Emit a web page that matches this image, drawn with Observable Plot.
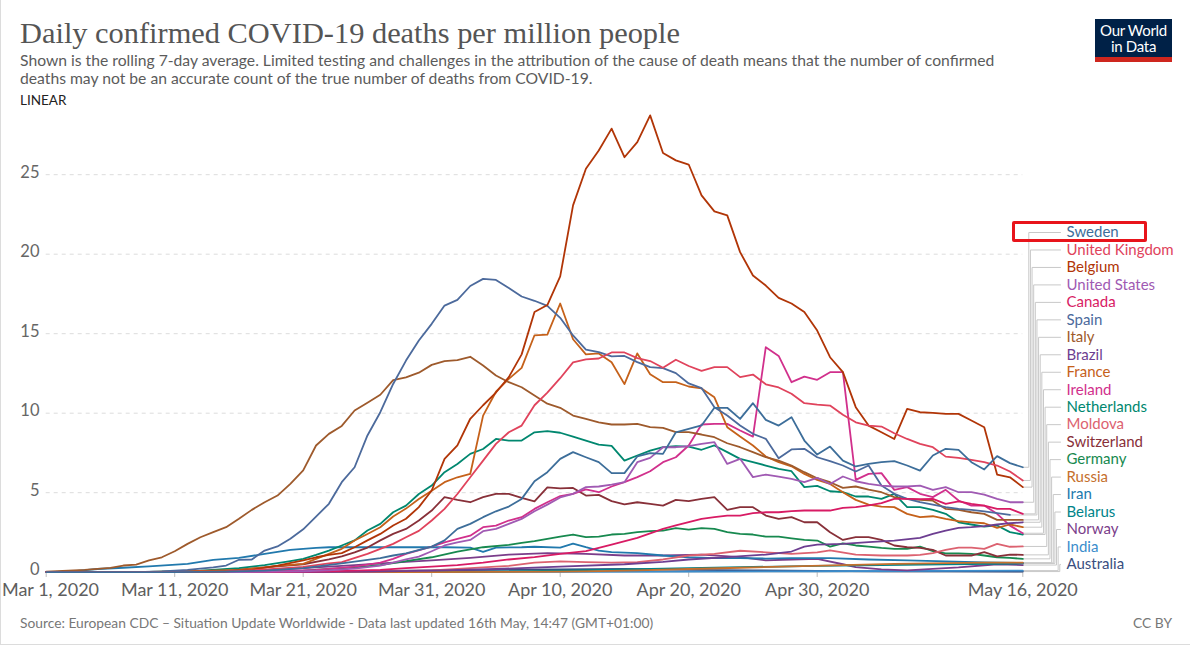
<!DOCTYPE html>
<html>
<head>
<meta charset="utf-8">
<script src="https://cdn.jsdelivr.net/npm/d3@7"></script>
<script src="https://cdn.jsdelivr.net/npm/@observablehq/plot@0.6"></script>
<style>
  body { margin: 0; background: #fff; }
  #wrap { position: relative; width: 1191px; height: 661px; overflow: hidden; font-family: Lato, "Open Sans", sans-serif; }
  #frame { position: absolute; left: 0; top: 0; width: 1190px; height: 645px; border-left: 1px solid #dcdcdc; border-bottom: 1px solid #dcdcdc; box-sizing: border-box; }
  #title { position: absolute; left: 20px; top: 17.5px; font-family: "Liberation Serif", "DejaVu Serif", serif; font-size: 30.4px; line-height: 30.4px; color: #555; white-space: nowrap; }
  #sub { position: absolute; left: 20px; top: 52.2px; font-size: 15.7px; line-height: 17.5px; color: #5b5b5b; white-space: nowrap; }
  #linear { position: absolute; left: 20px; top: 91.5px; font-size: 13.5px; line-height: 16px; color: #222; }
  #logo { position: absolute; left: 1095px; top: 19px; width: 77px; height: 43px; background: #002147; color: #fff; text-align: center; font-size: 15px; box-sizing: border-box; padding-top: 3px; border-bottom: 5px solid #ce261e; letter-spacing: -0.3px; }
  #logo div { line-height: 16px; height: 16px; }
  #chart { position: absolute; left: 0; top: 105px; }
  #hl { position: absolute; left: 1012px; top: 221px; width: 135px; height: 21px; border: 3px solid #e8141b; border-radius: 2px; box-sizing: border-box; }
  #source { position: absolute; left: 20px; top: 614.5px; font-size: 13.8px; line-height: 16.5px; color: #777; white-space: nowrap; }
  #cc { position: absolute; right: 19px; top: 614.5px; font-size: 13.8px; line-height: 16.5px; color: #777; }
</style>
</head>
<body>
<div id="wrap">
  <div id="frame"></div>
  <div id="title">Daily confirmed COVID-19 deaths per million people</div>
  <div id="sub">Shown is the rolling 7-day average. Limited testing and challenges in the attribution of the cause of death means that the number of confirmed<br>deaths may not be an accurate count of the true number of deaths from COVID-19.</div>
  <div id="linear">LINEAR</div>
  <div id="logo"><div>Our World</div><div>in Data</div></div>
  <div id="chart"></div>
  <div id="hl"></div>
  <div id="source">Source: European CDC – Situation Update Worldwide - Data last updated 16th May, 14:47 (GMT+01:00)</div>
  <div id="cc">CC BY</div>
</div>
<script>
// ---- data: [days since Mar 1 2020, deaths per million (7-day avg)] ----
const countries = ["Sweden","United Kingdom","Belgium","United States","Canada","Spain","Italy","Brazil","France","Ireland","Netherlands","Moldova","Switzerland","Germany","Russia","Iran","Belarus","Norway","India","Australia"];
const colors = ["#3d6e9a","#e0435c","#b13507","#a05ab3","#d81b64","#4c6a9c","#9e5a2c","#6d3e91","#c5611a","#d1308c","#00876f","#dc6270","#883039","#17894f","#c5702d","#2179ad","#00848a","#7b3d8a","#3b8dcc","#3a4e80"];

const sweden = [[0,0],[10,0],[14,0.03],[17,0.1],[20,0.25],[23,0.55],[26,0.88],[27,1.05],[28,1.19],[30,1.61],[31,2.0],[32,2.72],[33,3.04],[34,3.46],[35,3.83],[36,4.13],[37,4.61],[38,5.72],[39,6.29],[40,7.13],[41,7.55],[42,7.23],[43,6.92],[44,6.23],[45,6.23],[46,7.28],[47,7.49],[48,7.44],[49,8.8],[50,9.02],[51,9.23],[52,10.34],[53,10.34],[54,9.64],[55,10.63],[56,9.58],[57,9.22],[58,9.75],[59,8.28],[60,7.4],[61,7.9],[62,7.02],[63,6.65],[64,6.81],[65,6.92],[66,6.98],[67,6.71],[68,6.39],[69,7.34],[70,7.76],[71,7.69],[72,6.92],[73,6.46],[74,7.3],[75,6.86],[76,6.6]];
const unitedKingdom = [[0,0],[10,0.02],[14,0.05],[16,0.12],[18,0.22],[20,0.33],[22,0.55],[23,0.63],[25,1.15],[27,1.78],[28,2.2],[29,2.6],[30,3.25],[31,3.98],[32,4.92],[33,5.97],[34,7.02],[35,8.07],[36,8.8],[37,9.22],[38,10.5],[39,11.3],[40,12.2],[41,13.2],[42,13.38],[43,13.44],[44,13.82],[45,13.82],[46,13.46],[47,13.28],[48,12.86],[49,13.36],[50,12.97],[51,12.66],[52,12.9],[53,12.9],[54,12.27],[55,12.43],[56,11.82],[57,11.62],[58,11.22],[59,10.63],[60,10.54],[61,10.48],[62,9.9],[63,9.43],[64,9.22],[65,9.16],[66,8.74],[67,8.38],[68,8.07],[69,7.86],[70,7.27],[71,7.19],[72,7.06],[73,6.92],[74,6.71],[75,6.33],[76,5.77]];
const belgium = [[0,0],[10,0],[14,0.05],[16,0.15],[18,0.42],[20,0.74],[21,0.94],[22,1.09],[23,1.2],[24,1.57],[25,2.0],[26,2.41],[27,2.94],[28,3.36],[29,4.09],[30,5.14],[31,7.13],[32,7.97],[33,9.65],[34,10.5],[35,11.3],[36,12.27],[37,13.7],[38,16.36],[39,16.8],[40,18.6],[41,23.07],[42,25.37],[43,26.52],[44,27.9],[45,26.1],[46,27.05],[47,28.73],[48,26.36],[49,25.9],[50,25.64],[51,23.7],[52,22.69],[53,22.44],[54,20.13],[55,18.66],[56,18.03],[57,17.25],[58,16.9],[59,16.36],[60,15.2],[61,13.52],[62,12.58],[63,10.38],[64,9.22],[65,8.8],[66,8.38],[67,10.27],[68,10.06],[69,10.02],[70,9.96],[71,9.96],[72,9.54],[73,9.12],[74,6.14],[75,5.97],[76,5.35]];
const unitedStates = [[0,0],[15,0.01],[18,0.03],[20,0.06],[22,0.12],[24,0.22],[26,0.42],[27,0.6],[28,0.8],[29,0.98],[30,1.32],[31,1.68],[32,1.88],[33,2.03],[34,2.58],[35,2.72],[36,3.04],[37,3.35],[38,3.83],[39,4.25],[40,4.7],[41,4.93],[42,5.35],[43,5.39],[44,5.51],[45,5.66],[46,6.92],[47,7.19],[48,7.86],[49,7.86],[50,7.93],[51,8.07],[52,8.18],[53,6.81],[54,7.13],[55,5.98],[56,6.14],[57,6.01],[58,5.87],[59,5.66],[60,5.93],[61,5.55],[62,6.02],[63,5.72],[64,5.55],[65,5.45],[66,5.39],[67,5.39],[68,5.45],[69,5.18],[70,5.35],[71,5.03],[72,5.03],[73,4.88],[74,4.61],[75,4.4],[76,4.4]];
const canada = [[0,0],[18,0.01],[22,0.05],[26,0.15],[28,0.25],[30,0.35],[32,0.45],[34,0.6],[36,0.8],[38,0.95],[40,1.15],[42,1.32],[44,1.74],[46,2.16],[48,2.73],[49,2.94],[50,3.15],[51,3.36],[52,3.46],[53,3.56],[54,3.56],[55,3.71],[56,3.77],[57,3.77],[58,3.84],[59,3.88],[61,3.88],[62,4.05],[63,4.09],[64,4.2],[65,4.34],[66,4.61],[67,4.61],[68,4.6],[69,4.61],[70,4.3],[71,4.46],[72,4.3],[73,4.19],[74,3.98],[75,3.98],[76,3.67]];
const spain = [[0,0],[7,0],[9,0.05],[11,0.15],[13,0.3],[14,0.42],[15,0.78],[16,0.8],[17,1.36],[18,1.62],[19,2.1],[20,2.7],[21,3.5],[22,4.3],[23,5.66],[24,6.6],[25,8.6],[26,10.06],[27,11.84],[28,13.31],[29,14.57],[30,15.62],[31,16.77],[32,17.13],[33,18.0],[34,18.45],[35,18.38],[36,17.88],[37,17.34],[38,17.07],[39,16.75],[40,16.0],[41,14.89],[42,14.0],[43,13.84],[44,13.57],[45,13.6],[46,13.21],[47,12.9],[48,12.84],[49,12.52],[50,11.87],[51,11.58],[52,10.38],[53,9.85],[54,9.23],[55,8.7],[56,8.39],[57,7.16],[58,7.72],[59,7.76],[60,7.23],[61,6.98],[62,6.71],[63,6.33],[64,6.71],[65,5.45],[66,4.93],[67,4.61],[68,4.4],[69,4.25],[70,4.09],[71,3.98],[72,3.92],[73,3.82],[74,3.71],[75,3.6]];
const italy = [[0,0.03],[3,0.15],[5,0.27],[6,0.42],[7,0.48],[8,0.74],[9,0.94],[10,1.32],[11,1.78],[12,2.2],[13,2.52],[14,2.83],[15,3.36],[16,3.92],[17,4.4],[18,4.82],[19,5.56],[20,6.4],[21,7.97],[22,8.7],[23,9.2],[24,10.17],[25,10.66],[26,11.16],[27,12.08],[28,12.25],[29,12.55],[30,13.04],[31,13.28],[32,13.34],[33,13.55],[34,13.0],[35,12.37],[36,11.95],[37,11.63],[38,11.11],[39,10.6],[40,10.34],[41,9.85],[42,9.64],[43,9.43],[44,9.29],[45,9.29],[46,9.33],[47,9.12],[48,9.08],[49,8.81],[50,8.81],[51,8.66],[52,8.49],[53,8.11],[54,7.86],[55,7.55],[56,7.23],[57,7.02],[58,6.71],[59,6.29],[60,5.91],[61,5.66],[62,5.3],[63,5.39],[64,5.2],[65,5.03],[66,4.72],[67,4.61],[68,4.55],[69,4.5],[70,3.98],[71,3.92],[72,3.77],[73,3.67],[74,3.29],[75,3.29],[76,3.29]];
const brazil = [[0,0],[20,0],[25,0.03],[30,0.1],[35,0.2],[40,0.35],[45,0.5],[48,0.65],[50,0.8],[53,0.95],[56,1.11],[58,1.3],[59,1.61],[60,1.74],[62,1.78],[64,1.89],[66,1.99],[68,2.16],[69,2.41],[70,2.62],[71,2.79],[72,2.83],[73,2.9],[74,3.0],[75,3.08],[76,3.14]];
const france = [[0,0],[8,0.02],[12,0.08],[15,0.15],[17,0.3],[18,0.4],[20,0.52],[22,1.15],[23,1.47],[24,1.99],[25,2.4],[26,2.83],[27,3.5],[28,4.0],[29,4.6],[30,5.13],[31,5.66],[32,5.97],[33,6.18],[34,9.85],[35,11.35],[36,12.16],[37,12.85],[38,14.9],[39,14.94],[40,16.9],[41,14.65],[42,13.7],[43,13.76],[44,13.2],[45,11.83],[46,13.76],[47,12.45],[48,11.95],[49,11.95],[50,11.68],[51,11.56],[52,11.0],[53,9.12],[54,8.53],[55,7.97],[56,7.28],[57,6.92],[58,6.66],[59,6.18],[60,5.8],[61,5.55],[62,5.03],[63,4.55],[64,4.25],[65,4.13],[66,4.09],[67,3.67],[68,3.46],[69,3.52],[70,3.35],[71,3.21],[72,3.14],[73,3.08],[74,2.79],[75,3.0],[76,2.83]];
const ireland = [[0,0],[14,0.01],[18,0.05],[21,0.15],[24,0.35],[26,0.6],[27,0.84],[28,1.15],[30,1.61],[31,1.88],[32,2.1],[33,2.3],[34,2.83],[35,2.93],[36,3.25],[37,3.46],[38,3.98],[39,4.4],[40,4.79],[41,4.93],[42,5.21],[43,5.03],[44,5.39],[45,5.66],[46,5.98],[47,6.35],[48,6.92],[49,7.23],[50,7.97],[51,9.29],[52,9.33],[53,9.33],[54,8.91],[55,8.53],[56,14.15],[57,13.6],[58,11.95],[59,12.3],[60,12.1],[61,12.58],[62,12.58],[63,5.81],[64,6.18],[65,6.23],[66,5.18],[67,5.35],[68,4.93],[69,4.72],[70,5.18],[71,4.51],[72,4.19],[73,4.19],[74,3.67],[75,2.93],[76,2.45]];
const netherlands = [[0,0],[8,0.02],[12,0.1],[15,0.25],[17,0.45],[19,0.7],[20,0.84],[21,1.09],[22,1.36],[23,1.68],[24,2.0],[25,2.62],[26,3.04],[27,3.77],[28,4.19],[29,4.92],[30,5.45],[31,6.29],[32,6.81],[33,7.44],[34,7.75],[35,8.38],[36,8.28],[37,8.28],[38,8.8],[39,8.87],[40,8.77],[41,8.53],[42,8.28],[43,8.03],[44,7.95],[45,7.02],[46,7.34],[47,7.65],[48,7.86],[49,7.93],[50,7.9],[51,7.7],[52,7.97],[53,7.55],[54,7.13],[55,6.92],[56,6.71],[57,6.5],[58,6.35],[59,5.35],[60,5.43],[61,5.09],[62,5.03],[63,4.76],[64,4.76],[65,4.61],[66,4.93],[67,4.09],[68,4.09],[69,3.92],[70,3.67],[71,3.14],[72,3.0],[73,2.87],[74,2.94],[75,2.52],[76,2.37]];
const moldova = [[0,0],[20,0],[25,0.03],[30,0.12],[33,0.25],[36,0.4],[38,0.6],[40,0.68],[42,0.63],[44,0.6],[46,0.63],[48,0.8],[50,1.05],[52,1.15],[54,1.35],[56,1.25],[58,1.15],[60,1.25],[61,1.37],[63,1.1],[65,1.05],[67,1.05],[68,1.09],[69,1.2],[70,1.4],[71,1.55],[72,1.55],[73,1.47],[74,1.78],[75,1.6],[76,1.62]];
const switzerland = [[0,0],[10,0.02],[14,0.1],[17,0.3],[20,0.5],[22,0.8],[23,1.0],[24,1.25],[25,1.55],[26,2.0],[27,2.41],[28,2.72],[29,3.25],[30,3.88],[31,4.72],[32,4.55],[33,4.4],[34,4.72],[35,4.92],[36,4.92],[37,4.67],[38,4.46],[39,5.34],[40,5.27],[41,5.3],[42,4.82],[43,4.86],[44,4.47],[45,4.26],[46,4.4],[47,4.3],[48,4.19],[49,4.55],[50,4.47],[51,4.61],[52,4.72],[53,3.92],[54,4.09],[55,4.09],[56,3.56],[57,3.35],[58,3.46],[59,3.14],[60,3.14],[61,2.51],[62,2.03],[63,2.2],[64,2.2],[65,2.03],[66,1.68],[67,1.57],[68,1.53],[69,1.4],[70,1.05],[71,1.05],[72,1.05],[73,1.26],[74,0.99],[75,1.11],[76,1.09]];
const germany = [[0,0],[15,0.01],[18,0.05],[20,0.1],[22,0.2],[24,0.3],[26,0.45],[28,0.7],[30,0.94],[32,1.3],[34,1.57],[36,1.72],[37,1.85],[38,1.95],[39,2.1],[40,2.24],[41,2.37],[42,2.2],[43,2.24],[44,2.37],[45,2.41],[46,2.52],[47,2.58],[48,2.62],[49,2.77],[50,2.68],[51,2.77],[52,2.73],[53,2.52],[54,2.41],[55,2.37],[56,2.24],[57,2.24],[58,2.13],[59,2.03],[60,1.99],[61,1.61],[62,1.82],[63,1.68],[64,1.61],[65,1.53],[66,1.47],[67,1.47],[68,1.61],[69,1.32],[70,1.19],[71,1.19],[72,1.15],[73,1.05],[74,0.94],[75,0.9],[76,0.84]];
const russia = [[0,0],[25,0],[30,0.01],[35,0.02],[40,0.04],[43,0.07],[46,0.12],[50,0.2],[54,0.28],[58,0.37],[62,0.45],[66,0.52],[70,0.57],[73,0.6],[76,0.6]];
const iran = [[0,0],[2,0.05],[4,0.2],[6,0.28],[8,0.36],[11,0.53],[13,0.78],[15,0.9],[17,1.15],[19,1.4],[21,1.53],[22,1.57],[25,1.57],[28,1.57],[31,1.57],[33,1.55],[34,1.28],[35,1.55],[37,1.57],[38,1.6],[40,1.55],[41,1.8],[42,1.57],[43,1.36],[44,1.26],[46,1.2],[48,1.05],[50,0.94],[52,0.88],[54,0.88],[56,0.86],[58,0.88],[61,0.88],[64,0.8],[67,0.74],[70,0.68],[73,0.62],[76,0.58]];
const belarus = [[0,0],[28,0],[32,0.02],[36,0.05],[40,0.1],[45,0.18],[50,0.26],[55,0.33],[60,0.4],[65,0.45],[70,0.5],[76,0.55]];
const norway = [[0,0],[12,0.01],[15,0.05],[18,0.15],[21,0.3],[24,0.45],[27,0.6],[30,0.75],[33,0.9],[36,1.1],[39,1.2],[42,1.15],[45,1.05],[48,1.05],[51,1.1],[54,0.95],[56,0.74],[58,0.8],[60,0.84],[62,0.5],[63,0.32],[65,0.18],[67,0.11],[69,0.21],[71,0.3],[74,0.5],[76,0.45]];
const india = [[0,0],[20,0],[30,0.01],[40,0.02],[50,0.04],[60,0.06],[70,0.08],[76,0.1]];
const australia = [[0,0],[10,0],[18,0.01],[22,0.03],[26,0.08],[30,0.12],[35,0.15],[40,0.18],[45,0.2],[50,0.15],[55,0.12],[60,0.08],[65,0.05],[70,0.05],[76,0.04]];

const yTicks = [0, 5, 10, 15, 20, 25];
const xTickDays = [0, 10, 20, 30, 40, 50, 60, 76];

// ---- build ----
const seriesList = [sweden, unitedKingdom, belgium, unitedStates, canada, spain, italy, brazil, france, ireland, netherlands, moldova, switzerland, germany, russia, iran, belarus, norway, india, australia];
const MAR1 = Date.UTC(2020, 2, 1);
const day = d => new Date(MAR1 + d * 864e5);
const rows = [];
countries.forEach((c, i) => seriesList[i].forEach(([d, v]) => rows.push({country: c, date: day(d), value: v})));

// geometry (page coords; svg placed at top 105)
const TOP = 105, W = 1191, H = 505;
const x0 = 45.7, x1 = 1022.3, yZero = 571.7, yTop = 110.6;
const xs = d3.scaleUtc([day(0), day(76)], [x0, x1]);
const ys = d3.scaleLinear([0, 29], [yZero, yTop]);

// legend connectors and labels (layout derived from rank)
const labelY = i => 232 + i * 17.47;
const conn = [];
countries.forEach((c, i) => {
  const s = seriesList[i];
  const [ld, lv] = s[s.length - 1];
  const ex = xs(day(ld)), ey = ys(lv);
  const vx = 1028.3 + i * 1.63;
  const ly = labelY(i);
  [[ex, ey], [vx, ey], [vx, ly], [1060, ly]].forEach(([px, py]) =>
    conn.push({country: c, date: xs.invert(px), value: ys.invert(py)}));
});
const labels = countries.map((c, i) => ({country: c, date: xs.invert(1066), value: ys.invert(labelY(i))}));

const fmt = d3.utcFormat("%b %-d, %Y");
const drawOrder = countries.slice().reverse();
const orderedRows = drawOrder.flatMap(c => rows.filter(r => r.country === c));

const chart = Plot.plot({
  width: W,
  height: H,
  marginLeft: x0,
  marginRight: W - x1,
  marginTop: yTop - TOP,
  marginBottom: H - (yZero - TOP),
  x: {type: "utc", domain: [day(0), day(76)], axis: null},
  y: {domain: [0, 29], axis: null},
  color: {domain: countries, range: colors},
  style: {fontFamily: "Lato, sans-serif", background: "transparent", overflow: "visible"},
  marks: [
    Plot.ruleY(yTicks.filter(t => t > 0), {stroke: "#dcdcdc", strokeDasharray: "4,4", strokeWidth: 1}),
    Plot.ruleY([0], {stroke: "#cfcfcf", strokeWidth: 1}),
    Plot.ruleX(xTickDays.map(day), {x: d => d, y1: 0, y2: -0.33, stroke: "#bbb"}),
    Plot.text(yTicks, {y: d => d, text: d => String(d), frameAnchor: "left", textAnchor: "end", dx: -6.7, dy: -2.2, fill: "#666", fontSize: 16.5}),
    Plot.text(xTickDays.slice(0, 1).map(day), {x: d => d, text: fmt, frameAnchor: "bottom", dy: 24, dx: 4.3, fill: "#5e5e5e", fontSize: 18}),
    Plot.text(xTickDays.slice(1).map(day), {x: d => d, text: fmt, frameAnchor: "bottom", dy: 24, fill: "#5e5e5e", fontSize: 18}),
    Plot.line(conn, {x: "date", y: "value", z: "country", stroke: "#c8c8c8", strokeWidth: 1}),
    Plot.line(orderedRows, {x: "date", y: "value", z: "country", stroke: "country", strokeWidth: 1.8, strokeLinejoin: "round"}),
    Plot.text(labels, {x: "date", y: "value", text: "country", fill: "country", textAnchor: "start", fontSize: 15})
  ]
});
document.getElementById("chart").appendChild(chart);
</script>
</body>
</html>
